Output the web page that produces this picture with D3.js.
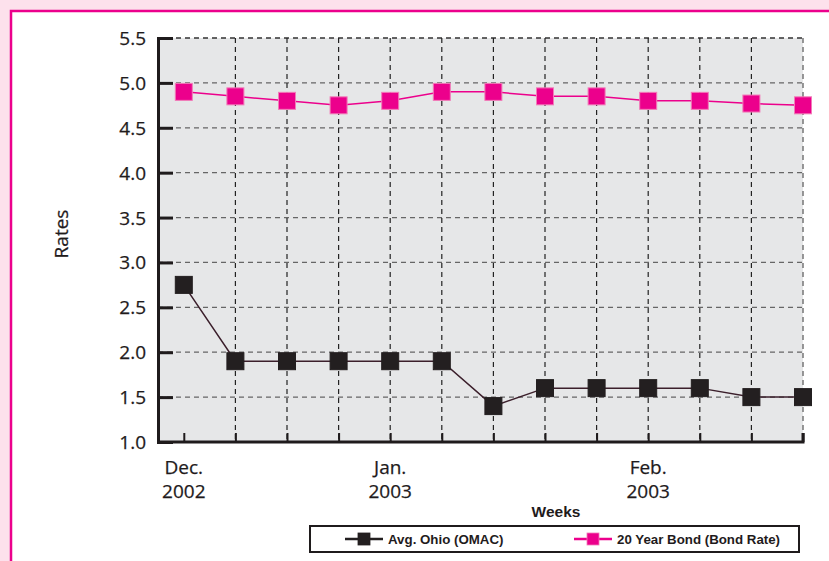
<!DOCTYPE html>
<html>
<head>
<meta charset="utf-8">
<script src="https://cdn.jsdelivr.net/npm/d3@7/dist/d3.min.js"></script>
<style>
  html, body { margin: 0; padding: 0; background: #fde1ec; }
  svg { display: block; }
</style>
</head>
<body>
<svg id="chart" width="829" height="561"></svg>
<script>
// Weekly rate series, Dec. 2002 – Feb. 2003
const weeks = d3.range(13);
const ohioRates = [2.75, 1.9, 1.9, 1.9, 1.9, 1.9, 1.4, 1.6, 1.6, 1.6, 1.6, 1.5, 1.5];
const bondRates = [4.9, 4.85, 4.8, 4.75, 4.8, 4.9, 4.9, 4.85, 4.85, 4.8, 4.8, 4.77, 4.75];
const yTicks = [1.0, 1.5, 2.0, 2.5, 3.0, 3.5, 4.0, 4.5, 5.0, 5.5];
const monthLabels = [
  { week: 0, lines: ["Dec.", "2002"] },
  { week: 4, lines: ["Jan.", "2003"] },
  { week: 9, lines: ["Feb.", "2003"] }
];
const seriesNames = ["Avg. Ohio (OMAC)", "20 Year Bond (Bond Rate)"];

const svg = d3.select("#chart");
const W = 829, H = 561;

// page frame
svg.append("rect").attr("x", 0).attr("y", 0).attr("width", W).attr("height", H).attr("fill", "#fde1ec");
svg.append("rect").attr("x", 11).attr("y", 11).attr("width", W + 20).attr("height", H + 20)
  .attr("fill", "#ffffff").attr("stroke", "#ec008c").attr("stroke-width", 2.5);

const plot = { left: 158, right: 803, top: 38, bottom: 442 };
const x = d3.scaleLinear().domain([-0.5, 12]).range([plot.left, plot.right]);
const y = d3.scaleLinear().domain([1.0, 5.5]).range([plot.bottom, plot.top]);

const font = "'Open Sans', 'Noto Sans', sans-serif";
const boldFont = "'Liberation Sans', Arial, sans-serif";
const ink = "#1f1b1c";

// plot background
svg.append("rect").attr("x", plot.left).attr("y", plot.top)
  .attr("width", plot.right - plot.left).attr("height", plot.bottom - plot.top)
  .attr("fill", "#e6e7e8");

// horizontal grid
svg.append("g").selectAll("line").data(yTicks.slice(1)).join("line")
  .attr("x1", plot.left).attr("x2", plot.right)
  .attr("y1", d => y(d)).attr("y2", d => y(d))
  .attr("stroke", d => d === 5.5 ? "#333" : "#666")
  .attr("stroke-width", d => d === 5.5 ? 1.5 : 1.3)
  .attr("stroke-dasharray", "5,4");

// vertical grid
svg.append("g").selectAll("line").data(weeks.slice(1)).join("line")
  .attr("x1", d => x(d)).attr("x2", d => x(d))
  .attr("y1", plot.top).attr("y2", plot.bottom)
  .attr("stroke", d => d === 12 ? "#777" : "#222")
  .attr("stroke-width", d => d === 12 ? 1.5 : 1.2)
  .attr("stroke-dasharray", "5,4");

// y axis
const yAxis = d3.axisLeft(y).tickValues(yTicks).tickFormat(d3.format(".1f")).tickSize(-15).tickPadding(12);
const gy = svg.append("g").attr("transform", `translate(${plot.left},0)`).call(yAxis);
gy.select(".domain").attr("stroke", ink).attr("stroke-width", 3);
gy.selectAll(".tick line").attr("stroke", ink).attr("stroke-width", 3);
gy.selectAll(".tick text").attr("font-family", font).attr("font-size", 19).attr("fill", ink)
  .attr("stroke", ink).attr("stroke-width", 0.25).attr("dy", "0.34em");

// x axis
const xAxis = d3.axisBottom(x).tickValues(weeks).tickFormat("").tickSize(-9);
const gx = svg.append("g").attr("transform", `translate(0,${plot.bottom})`).call(xAxis);
gx.select(".domain").attr("d", `M${plot.left},0H${plot.right}V-9`).attr("stroke", ink).attr("stroke-width", 3).attr("fill", "none");
gx.selectAll(".tick line").attr("stroke", ink).attr("stroke-width", 2);

// month labels
monthLabels.forEach(m => {
  const t = svg.append("text").attr("x", x(m.week)).attr("y", 474)
    .attr("text-anchor", "middle").attr("font-family", font).attr("font-size", 19)
    .attr("fill", ink).attr("stroke", ink).attr("stroke-width", 0.25);
  m.lines.forEach((l, i) => t.append("tspan").attr("x", x(m.week)).attr("dy", i === 0 ? 0 : 24).text(l));
});

// axis titles
svg.append("text").attr("transform", "translate(68,234) rotate(-90)")
  .attr("text-anchor", "middle").attr("font-family", font).attr("font-size", 19)
  .attr("fill", ink).attr("stroke", ink).attr("stroke-width", 0.25).text("Rates");
svg.append("text").attr("x", 556).attr("y", 517).attr("text-anchor", "middle")
  .attr("font-family", boldFont).attr("font-weight", "bold")
  .attr("font-size", 15.5).attr("fill", ink).text("Weeks");

// series
const line = d3.line().x((d, i) => x(i)).y(d => y(d));
const series = [
  { values: ohioRates, line: "#3b1f2b", fill: "#231f20", stroke: "#231f20" },
  { values: bondRates, line: "#ec008c", fill: "#ec008c", stroke: "#f27bb8" }
];
const ms = 17;
series.forEach(s => {
  svg.append("path").datum(s.values).attr("d", line).attr("fill", "none")
    .attr("stroke", s.line).attr("stroke-width", 1.5);
  svg.append("g").selectAll("rect").data(s.values).join("rect")
    .attr("x", (d, i) => x(i) - ms / 2).attr("y", d => y(d) - ms / 2)
    .attr("width", ms).attr("height", ms)
    .attr("fill", s.fill).attr("stroke", s.stroke).attr("stroke-width", 1);
});

// legend
const lg = svg.append("g");
lg.append("rect").attr("x", 310).attr("y", 526).attr("width", 489).attr("height", 26)
  .attr("fill", "#fff").attr("stroke", ink).attr("stroke-width", 2);
const legendItems = [
  { name: seriesNames[0], x0: 345, color: "#231f20", stroke: "#231f20" },
  { name: seriesNames[1], x0: 574, color: "#ec008c", stroke: "#f27bb8" }
];
legendItems.forEach(it => {
  lg.append("line").attr("x1", it.x0).attr("x2", it.x0 + 38).attr("y1", 539).attr("y2", 539)
    .attr("stroke", it.color).attr("stroke-width", 2.5);
  lg.append("rect").attr("x", it.x0 + 13).attr("y", 533).attr("width", 12).attr("height", 12)
    .attr("fill", it.color).attr("stroke", it.stroke).attr("stroke-width", 0.8);
  lg.append("text").attr("x", it.x0 + 43).attr("y", 544)
    .attr("font-family", boldFont).attr("font-weight", "bold")
    .attr("font-size", 13.3).attr("fill", ink).text(it.name);
});
</script>
</body>
</html>
